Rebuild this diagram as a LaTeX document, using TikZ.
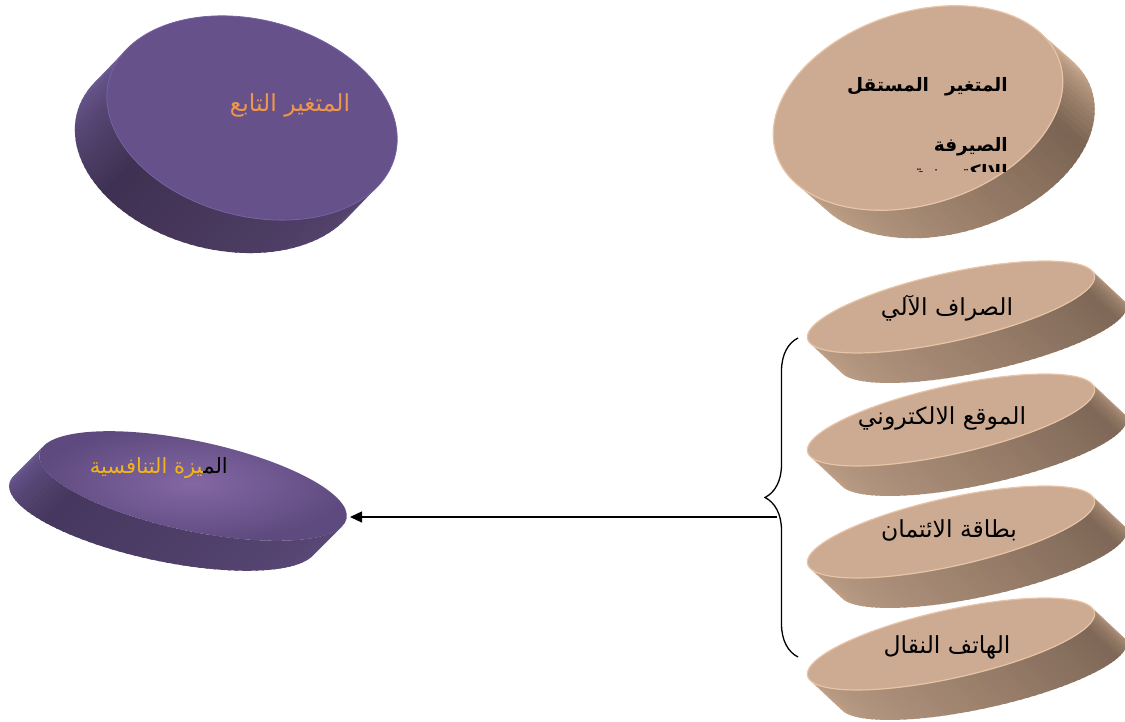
\documentclass[tikz,border=0pt]{standalone}
\usepackage{fontspec}
\usetikzlibrary{arrows.meta,decorations.pathreplacing}
\TeXXeTstate=1
\newfontfamily\arabicfont[Script=Arabic]{DejaVu Sans}

% dependent-variable disc (purple, top left)
\definecolor{depA}{HTML}{6F5C97}
\definecolor{depB}{HTML}{3F3152}
\definecolor{depC}{HTML}{56456F}
\definecolor{depTop}{HTML}{67518A}
\definecolor{depRim}{HTML}{7461A0}
% competitive-advantage disc (purple, bottom left)
\definecolor{advA}{HTML}{6D5A95}
\definecolor{advB}{HTML}{45375E}
\definecolor{advC}{HTML}{5B4978}
\definecolor{advTopIn}{HTML}{8367A4}
\definecolor{advTopOut}{HTML}{5E4A7E}
% independent-variable disc (tan, top right)
\definecolor{indA}{HTML}{C2A389}
\definecolor{indB}{HTML}{7B6453}
\definecolor{indC}{HTML}{D8B79B}
% channel discs (tan, right column)
\definecolor{chA}{HTML}{C0A189}
\definecolor{chB}{HTML}{7E6756}
\definecolor{chC}{HTML}{B69880}
\definecolor{tanTop}{HTML}{CDAB92}
\definecolor{tanRim}{HTML}{E8C4A7}
% label colours
\definecolor{labelOrange}{HTML}{F0964A}
\definecolor{labelGold}{HTML}{F2B41A}

\tikzset{
  depface/.style={fill=depTop,draw=depRim,line width=0.8pt},
  advface/.style={inner color=advTopIn,outer color=advTopOut},
  indface/.style={fill=tanTop,draw=tanRim,line width=1.2pt},
  chface/.style={fill=tanTop,draw=tanRim,line width=1.2pt},
  arlabel/.style={font=\arabicfont\fontsize{23.5}{28}\selectfont,inner sep=0pt},
  advlabel/.style={font=\arabicfont\fontsize{21}{25}\selectfont,inner sep=0pt},
  arbold/.style={font=\arabicfont\bfseries\fontsize{18.5}{22}\selectfont,inner sep=0pt},
  bracestyle/.style={draw=black,line width=1.3pt,decorate,
    decoration={brace,amplitude=33pt}},
  linkarrow/.style={draw=black,line width=1.3pt,
    -{Triangle[length=12pt,width=11pt]}},
}

% Oblique disc seen in perspective.
% #1,#2 centre of the top face; #3 tilt; #4,#5 semi-axes;
% #6,#7 depth vector; #8 colour prefix (A,B,C side stops and face style);
% #9 position of the darkest side stop (0..1)
\newcommand\drawdisc[9]{%
  \begin{scope}[shift={(#1,#2)},rotate=#3]
    \pgfmathsetmacro\dsVx{(#6)*cos(#3)+(#7)*sin(#3)}
    \pgfmathsetmacro\dsVy{-(#6)*sin(#3)+(#7)*cos(#3)}
    \pgfmathsetmacro\dsTz{atan2(-(#5)*\dsVx,(#4)*\dsVy)}
    \foreach \k in {0,...,59}{
      \pgfmathsetmacro\dsTa{\dsTz+3*\k}
      \pgfmathsetmacro\dsTb{min(\dsTz+3*\k+4,\dsTz+180)}
      \pgfmathsetmacro\dsXa{(#4)*cos(\dsTa)}
      \pgfmathsetmacro\dsYa{(#5)*sin(\dsTa)}
      \pgfmathsetmacro\dsXb{(#4)*cos(\dsTb)}
      \pgfmathsetmacro\dsYb{(#5)*sin(\dsTb)}
      \pgfmathsetmacro\dsS{(\k+0.5)/60}
      \pgfmathtruncatemacro\dsQa{max(0,100*(1-\dsS/#9))}
      \pgfmathtruncatemacro\dsQb{min(100,100*(1-(\dsS-#9)/(1-#9)))}
      \fill[fill=#8A!\dsQa!#8B!\dsQb!#8C]
        (\dsXa,\dsYa) -- (\dsXb,\dsYb)
        -- (\dsXb+\dsVx,\dsYb+\dsVy) -- (\dsXa+\dsVx,\dsYa+\dsVy) -- cycle;
    }
    \path[#8face] (0,0) ellipse[x radius=#4,y radius=#5];
  \end{scope}%
}

\begin{document}
\begin{tikzpicture}[x=1pt,y=1pt]
  \useasboundingbox (0,0) rectangle (1125,722);

  % discs
  \drawdisc{252}{604}{-15}{148}{98}{-32}{-33}{dep}{0.38}
  \drawdisc{918}{614}{18}{149}{96}{32}{-28}{ind}{0.7}
  \drawdisc{951}{415}{12.5}{147}{34}{32}{-30}{ch}{0.82}
  \drawdisc{951}{302}{12.5}{147}{34}{32}{-30}{ch}{0.82}
  \drawdisc{951}{190}{12.5}{147}{34}{32}{-30}{ch}{0.82}
  \drawdisc{951}{78}{12.5}{147}{34}{32}{-30}{ch}{0.82}
  \drawdisc{193}{236}{-12}{157}{45}{-30}{-30}{adv}{0.3}

  % labels
  \node[arlabel,text=labelOrange] (depLabel) at (290,617)
    {\beginR المتغير التابع\endR};

  \node[arbold,anchor=base east] (indLineA) at (1008,630)
    {\beginR المتغير\hspace{16pt}المستقل\endR};
  \node[arbold,anchor=base east] (indLineB) at (1008,570)
    {\beginR الصيرفة\endR};
  \begin{scope}
    \clip (880,550) rectangle (1030,560);
    \node[arbold,anchor=base east] (indLineC) at (1008,543)
      {\beginR الالكترونية\endR};
  \end{scope}

  \node[arlabel] (chATM) at (947,414) {\beginR الصراف الآلي\endR};
  \node[arlabel] (chWeb) at (942,304) {\beginR الموقع الالكتروني\endR};
  \node[arlabel] (chCard) at (949,192) {\beginR بطاقة الائتمان\endR};
  \node[arlabel] (chMobile) at (947,75) {\beginR الهاتف النقال\endR};

  % the first three letters in black, the rest of the label in gold;
  % zero-width joiners keep the two runs joined
  \node[advlabel,text=black,anchor=base east] (advHead) at (228,248)
    {الم^^^^200d};
  \node[advlabel,text=labelGold,anchor=base east] (advTail) at (advHead.base west)
    {\beginR ^^^^200dيزة التنافسية\endR};

  % brace grouping the channels, and the link to the advantage disc
  \coordinate (braceBot) at (798,65);
  \coordinate (braceTop) at (798,384);
  \draw[bracestyle] (braceBot) -- (braceTop);
  \coordinate (braceFoot) at (777,205);
  \coordinate (advEast) at (350,205);
  \draw[linkarrow] (braceFoot) -- (advEast);
\end{tikzpicture}
\end{document}
